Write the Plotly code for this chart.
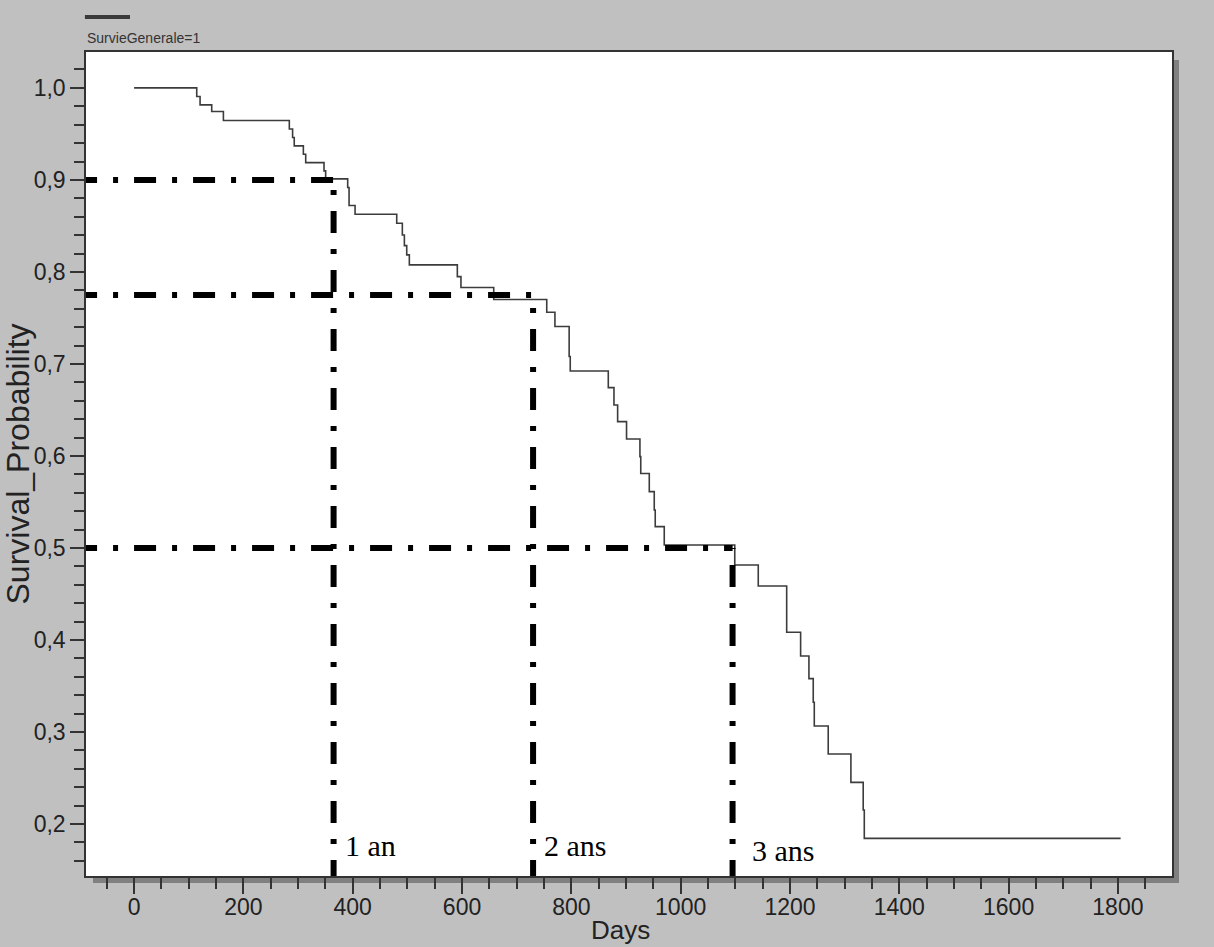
import plotly.graph_objects as go

# ---------------- data ----------------
TIMES = [0, 114.6, 120.7, 142, 163.4, 284, 290, 293, 309.7, 314, 347.5, 350.5,
         390.8, 393.3, 404.3, 480.5, 490.8, 494.5, 498.8, 503.6, 591.4, 598,
         658, 755, 770, 796, 798, 867.6, 878, 884.7, 901, 925.5, 927, 942.6,
         951.7, 953.5, 970, 1099, 1142, 1194, 1219.5, 1234.7, 1242.6, 1244.5,
         1270, 1311.5, 1334, 1336, 1805]
SURV = [1.000, 0.9906, 0.9815, 0.9743, 0.9645, 0.9554, 0.946, 0.937, 0.9279,
        0.9188, 0.9098, 0.9011, 0.8917, 0.8721, 0.8627, 0.8529, 0.8402, 0.8286,
        0.8185, 0.8076, 0.7949, 0.7830, 0.7700, 0.7562, 0.7406, 0.708, 0.6924,
        0.6743, 0.6554, 0.6373, 0.6185, 0.5993, 0.581, 0.5612, 0.5413, 0.5232,
        0.5033, 0.4815, 0.4587, 0.4084, 0.3826, 0.358, 0.3323, 0.3065, 0.2761,
        0.2453, 0.2152, 0.1844, 0.1844]

YEAR_DAYS = [365, 730, 1095]
YEAR_SURV = [0.90, 0.775, 0.50]
YEAR_LABELS = ["1 an", "2 ans", "3 ans"]

X_TICKS = [0, 200, 400, 600, 800, 1000, 1200, 1400, 1600, 1800]
X_TICK_LABELS = ["0", "200", "400", "600", "800", "1000", "1200", "1400", "1600", "1800"]
Y_TICKS = [0.2, 0.3, 0.4, 0.5, 0.6, 0.7, 0.8, 0.9, 1.0]
Y_TICK_LABELS = ["0,2", "0,3", "0,4", "0,5", "0,6", "0,7", "0,8", "0,9", "1,0"]

SERIES_NAME = "SurvieGenerale=1"
X_TITLE = "Days"
Y_TITLE = "Survival_Probability"

# ---------------- style / layout ----------------
X_RANGE = [-88, 1899]
Y_RANGE = [0.1435, 1.039]
LABEL_Y = [0.177, 0.177, 0.171]
LABEL_SHIFT = [9, 9, 17]
DASH = "22px,16px,5px,16px"
AXIS_COLOR = "#333333"
SANS = "Liberation Sans, Arial, sans-serif"
SERIF = "Liberation Serif, Times New Roman, serif"

fig = go.Figure()

fig.add_trace(go.Scatter(
    x=TIMES, y=SURV, mode="lines", name=SERIES_NAME,
    line=dict(shape="hv", color="#3c3c3c", width=1.6),
    showlegend=False,
))

for d, s in zip(YEAR_DAYS, YEAR_SURV):
    fig.add_trace(go.Scatter(
        x=[X_RANGE[0] - 20, d], y=[s, s], mode="lines",
        line=dict(color="#000000", width=6, dash=DASH),
        showlegend=False, hoverinfo="skip",
    ))
    fig.add_trace(go.Scatter(
        x=[d, d], y=[Y_RANGE[0] - 0.0065, s], mode="lines",
        line=dict(color="#000000", width=6, dash=DASH),
        showlegend=False, hoverinfo="skip",
    ))

for d, lab, ly, sh in zip(YEAR_DAYS, YEAR_LABELS, LABEL_Y, LABEL_SHIFT):
    fig.add_annotation(
        x=d, y=ly, xref="x", yref="y", text=lab, showarrow=False,
        xanchor="left", yanchor="middle", xshift=sh,
        font=dict(family=SERIF, size=30, color="#000000"),
    )

# legend (line above text) drawn at the top-left
fig.add_shape(type="line", xref="paper", yref="paper",
              x0=-0.001, x1=0.0405, y0=1.0425, y1=1.0425,
              line=dict(color="#3a3a3a", width=4))
fig.add_annotation(xref="paper", yref="paper", x=-0.001, y=1.0170,
                   xanchor="left", yanchor="middle", showarrow=False,
                   text=SERIES_NAME, font=dict(family=SANS, size=14, color="#333333"))

# x-axis title placed under the tick labels
fig.add_annotation(xref="paper", yref="paper", x=0.492, y=-0.066,
                   xanchor="center", yanchor="middle", showarrow=False,
                   text=X_TITLE, font=dict(family=SANS, size=26, color="#222222"))

# drop shadow of the plot frame
fig.add_shape(type="rect", xref="paper", yref="paper", layer="below",
              x0=1.0, x1=1.00645, y0=-0.0085, y1=0.9903,
              fillcolor="#808080", line=dict(width=0))
fig.add_shape(type="rect", xref="paper", yref="paper", layer="below",
              x0=0.00645, x1=1.00645, y0=-0.0085, y1=0.0,
              fillcolor="#808080", line=dict(width=0))

fig.update_layout(
    width=1214, height=947,
    margin=dict(l=86, r=42, t=52, b=71, pad=0, autoexpand=False),
    paper_bgcolor="#c0c0c0", plot_bgcolor="#ffffff",
    font=dict(family=SANS, color="#222222"),
    showlegend=False,
)

fig.update_xaxes(
    range=X_RANGE, tickmode="array", tickvals=X_TICKS, ticktext=X_TICK_LABELS,
    ticks="outside", ticklen=16, tickwidth=1.5, tickcolor=AXIS_COLOR,
    ticklabelstandoff=-6, automargin=False,
    showline=True, linecolor=AXIS_COLOR, linewidth=1.5, mirror=True,
    showgrid=False, zeroline=False,
    tickfont=dict(family=SANS, size=23, color="#222222"),
    minor=dict(tickmode="linear", tick0=0, dtick=50, ticks="outside",
               ticklen=11, tickwidth=1.5, tickcolor=AXIS_COLOR, showgrid=False),
)
fig.update_yaxes(
    range=Y_RANGE, tickmode="array", tickvals=Y_TICKS, ticktext=Y_TICK_LABELS,
    ticks="outside", ticklen=14, tickwidth=1.5, tickcolor=AXIS_COLOR,
    automargin=False,
    showline=True, linecolor=AXIS_COLOR, linewidth=1.5, mirror=True,
    showgrid=False, zeroline=False,
    tickfont=dict(family=SANS, size=23, color="#222222"),
    title=dict(text=Y_TITLE, font=dict(family=SANS, size=32, color="#222222"), standoff=3),
    minor=dict(tickmode="linear", tick0=0, dtick=0.02, ticks="outside",
               ticklen=10, tickwidth=1.5, tickcolor=AXIS_COLOR, showgrid=False),
)

fig.write_html("out.html")
